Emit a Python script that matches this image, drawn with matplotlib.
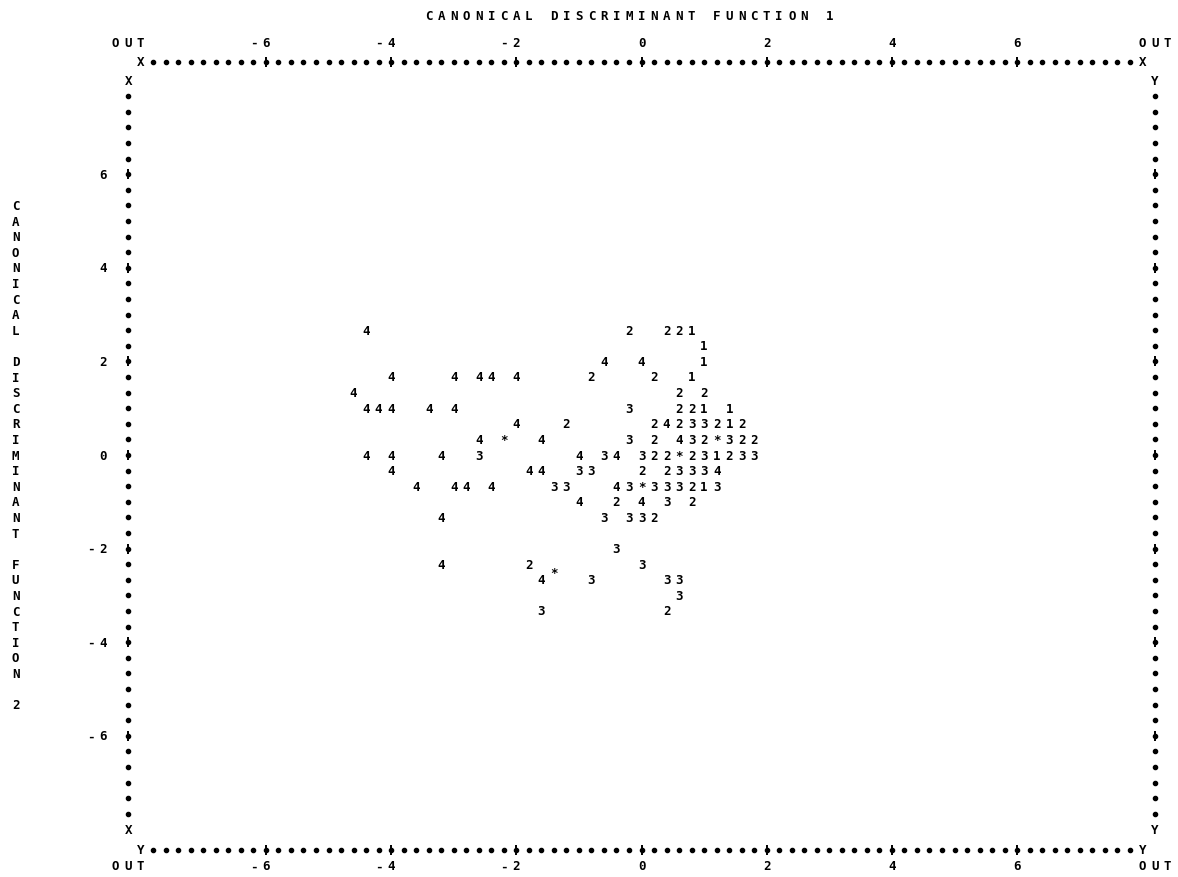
import matplotlib.pyplot as plt
import numpy as np

# discriminant scores as printed on the line-printer grid
# (function 1 on x, function 2 on y), one list pair per group
grp1_x = [0.8, 1.0, 1.0, 0.8, 1.0, 1.4, 1.4, 1.2, 1.0]
grp1_y = [2.67, 2.33, 2.0, 1.67, 1.0, 1.0, 0.67, 0.0, -0.67]

grp2_x = [-0.2, 0.4, 0.6, -0.8, 0.2, 0.6, 1.0, 0.6, 0.8,
          -1.2, 0.2, 0.6, 1.2, 1.6, 0.2, 1.0, 1.6, 1.8,
          0.2, 0.4, 0.8, 1.4, 0.0, 0.4, 0.8, -0.4, 0.8,
          0.2, -1.8, 0.4]
grp2_y = [2.67, 2.67, 2.67, 1.67, 1.67, 1.33, 1.33, 1.0, 1.0,
          0.67, 0.67, 0.67, 0.67, 0.67, 0.33, 0.33, 0.33, 0.33,
          0.0, 0.0, 0.0, 0.0, -0.33, -0.33, -0.67, -1.0, -1.0,
          -1.33, -2.33, -3.33]

grp3_x = [-0.2, 0.8, 1.0, -0.2, 0.8, 1.4,
          -2.6, -0.6, 0.0, 1.0, 1.6, 1.8,
          -1.0, -0.8, 0.6, 0.8, 1.0,
          -1.4, -1.2, -0.2, 0.2, 0.4, 0.6, 1.2,
          0.4, -0.6, -0.2, 0.0, -0.4, 0.0,
          -0.8, 0.4, 0.6, 0.6, -1.6]
grp3_y = [1.0, 0.67, 0.67, 0.33, 0.33, 0.33,
          0.0, 0.0, 0.0, 0.0, 0.0, 0.0,
          -0.33, -0.33, -0.33, -0.33, -0.33,
          -0.67, -0.67, -0.67, -0.67, -0.67, -0.67, -0.67,
          -1.0, -1.33, -1.33, -1.33, -2.0, -2.33,
          -2.67, -2.67, -2.67, -3.0, -3.33]

grp4_x = [-4.4, -0.6, 0.0, -4.0, -3.0, -2.6, -2.4, -2.0, -4.6,
          -4.4, -4.2, -4.0, -3.4, -3.0, -2.0, 0.4,
          -2.6, -1.6, 0.6, -4.4, -4.0, -3.2, -1.0, -0.4,
          -4.0, -1.8, -1.6, 1.2, -3.6, -3.0, -2.8, -2.4, -0.4,
          -1.0, 0.0, -3.2, -3.2, -1.6]
grp4_y = [2.67, 2.0, 2.0, 1.67, 1.67, 1.67, 1.67, 1.67, 1.33,
          1.0, 1.0, 1.0, 1.0, 1.0, 0.67, 0.67,
          0.33, 0.33, 0.33, 0.0, 0.0, 0.0, 0.0, 0.0,
          -0.33, -0.33, -0.33, -0.33, -0.67, -0.67, -0.67, -0.67, -0.67,
          -1.0, -1.0, -1.33, -2.33, -2.67]

# group centroids
cent_x = [-2.2, 0.6, 1.2, 0.0, -1.4]
cent_y = [0.33, 0.0, 0.33, -0.67, -2.5]

tick_vals = [-6, -4, -2, 0, 2, 4, 6]

COL = 0.2      # one print column
ROW = 1 / 3    # one print line

fig = plt.figure(figsize=(11.78, 8.78), dpi=100)
ax = fig.add_axes([0, 0, 1, 1])
ax.set_xlim(-10.248, 8.570)
ax.set_ylim(-9.017, 9.744)
ax.axis('off')

mono = dict(family='DejaVu Sans Mono', weight='bold', size=9,
            ha='center', va='center', color='black')


def put(x, y, s, dx=COL, dy=0.0):
    # print a string one character per grid cell
    for i, ch in enumerate(s):
        if ch != ' ':
            ax.text(x + i * dx, y + i * dy, ch, **mono)


def dots(xs, ys):
    ax.plot(xs, ys, 'o', ms=3, color='black', ls='none')


def ticks(xs, ys):
    dots(xs, ys)
    ax.plot(xs, ys, marker='|', ms=7, mew=1.4, color='black', ls='none')


# horizontal borders
top_y, bot_y = 8.4, -8.44
cols = [c for c in np.round(np.arange(-7.8, 7.81, COL), 1) if c not in tick_vals]
for by in (top_y, bot_y):
    dots(cols, [by] * len(cols))
    ticks(tick_vals, [by] * len(tick_vals))
put(-8.0, top_y, 'X')
put(8.0, top_y, 'X')
put(-8.0, bot_y, 'Y')
put(8.0, bot_y, 'Y')

# vertical borders, corners at +/-8
rows = [k * ROW for k in range(-23, 24) if k % 6 != 0 or abs(k) > 18]
for xc in (-8.2, 8.2):
    dots([xc] * len(rows), rows)
    ticks([xc] * len(tick_vals), tick_vals)
put(-8.2, 8.0, 'X')
put(-8.2, -8.0, 'X')
put(8.2, 8.0, 'Y')
put(8.2, -8.0, 'Y')

# axis scale labels
for ly in (8.82, -8.78):
    put(-8.4, ly, 'OUT')
    put(8.0, ly, 'OUT')
    for v in tick_vals:
        s = str(v)
        put(v - (len(s) - 1) * COL, ly, s)
for v in tick_vals:
    s = str(v)
    put(-8.6 - (len(s) - 1) * COL, v, s)

put(-3.4, 9.4, 'CANONICAL DISCRIMINANT FUNCTION 1')
put(-10.0, 16 * ROW, 'CANONICAL DISCRIMINANT FUNCTION 2', dx=0, dy=-ROW)

# the cases, printed by group number
for xs, ys, ch in [(grp1_x, grp1_y, '1'), (grp2_x, grp2_y, '2'),
                   (grp3_x, grp3_y, '3'), (grp4_x, grp4_y, '4'),
                   (cent_x, cent_y, '*')]:
    for x, y in zip(xs, ys):
        ax.text(x, y, ch, **mono)

fig.savefig('out.png', dpi=100)
